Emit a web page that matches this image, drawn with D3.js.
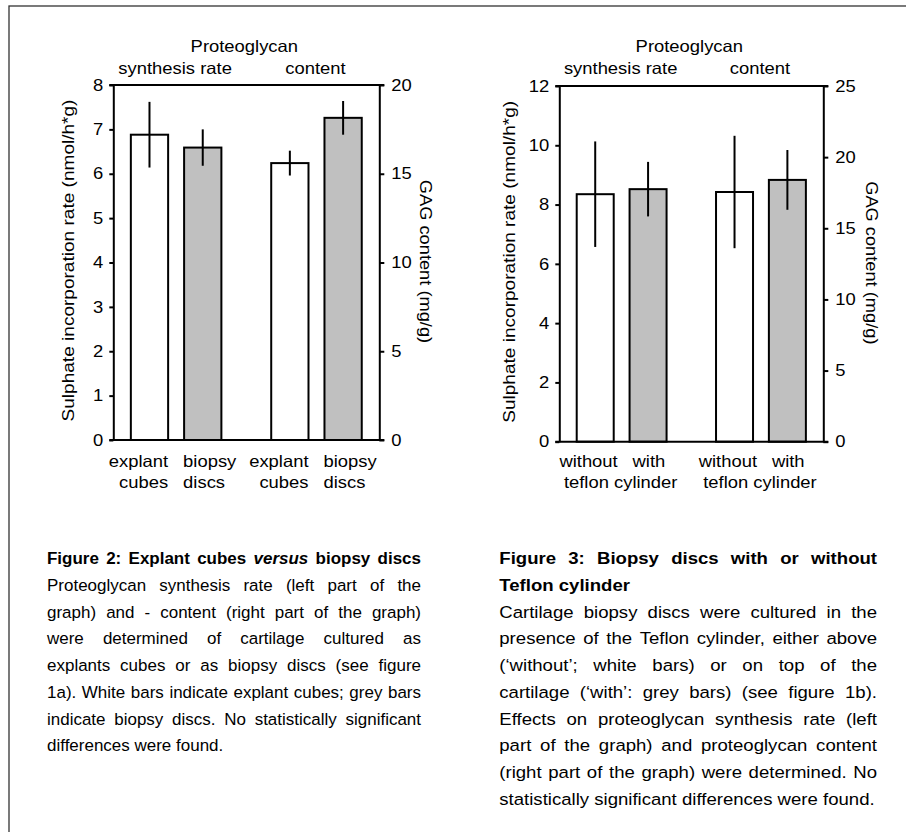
<!DOCTYPE html>
<html>
<head>
<meta charset="utf-8">
<script src="https://cdn.jsdelivr.net/npm/d3@7"></script>
<style>
  html, body { margin: 0; padding: 0; background: #fff; }
  svg { display: block; }
</style>
</head>
<body>
<script>
// ---- Figure 2: explant cubes vs biopsy discs ----
const fig2Groups = ["synthesis rate", "content"];
const fig2Bars = ["explant cubes", "biopsy discs"];
const fig2Rate = [6.88, 6.59];          // nmol/h*g (left axis)
const fig2RateErr = [0.74, 0.41];
const fig2Content = [15.6, 18.15];      // mg/g (right axis)
const fig2ContentErr = [0.7, 0.95];
const fig2LeftTicks = [0, 1, 2, 3, 4, 5, 6, 7, 8];
const fig2RightTicks = [0, 5, 10, 15, 20];

// ---- Figure 3: biopsy discs with or without Teflon cylinder ----
const fig3Groups = ["synthesis rate", "content"];
const fig3Bars = ["without", "with"];
const fig3SharedLabel = "teflon cylinder";
const fig3Rate = [8.35, 8.52];
const fig3RateErr = [1.78, 0.92];
const fig3Content = [17.55, 18.4];
const fig3ContentErr = [3.95, 2.1];
const fig3LeftTicks = [0, 2, 4, 6, 8, 10, 12];
const fig3RightTicks = [0, 5, 10, 15, 20, 25];

const leftAxisTitle = "Sulphate incorporation rate (nmol/h*g)";
const rightAxisTitle = "GAG content (mg/g)";
const headerTitle = "Proteoglycan";

const fig2Caption = [
  { text: "Figure 2: Explant cubes *versus* biopsy discs", bold: true, justify: true },
  { text: "Proteoglycan synthesis rate (left part of the", justify: true },
  { text: "graph) and - content (right part of the graph)", justify: true },
  { text: "were determined of cartilage cultured as", justify: true },
  { text: "explants cubes or as biopsy discs (see figure", justify: true },
  { text: "1a). White bars indicate explant cubes; grey bars", justify: true },
  { text: "indicate biopsy discs. No statistically significant", justify: true },
  { text: "differences were found.", justify: false }
];
const fig3Caption = [
  { text: "Figure 3: Biopsy discs with or without", bold: true, justify: true },
  { text: "Teflon cylinder", bold: true, justify: false },
  { text: "Cartilage biopsy discs were cultured in the", justify: true },
  { text: "presence of the Teflon cylinder, either above", justify: true },
  { text: "(\u2018without\u2019; white bars) or on top of the", justify: true },
  { text: "cartilage (\u2018with\u2019: grey bars) (see figure 1b).", justify: true },
  { text: "Effects on proteoglycan synthesis rate (left", justify: true },
  { text: "part of the graph) and proteoglycan content", justify: true },
  { text: "(right part of the graph) were determined. No", justify: true },
  { text: "statistically significant differences were found.", justify: false }
];

const FONT = "'Liberation Sans', Arial, Helvetica, sans-serif";
const CHART_SIZE = 16.3, CHART_SX = 1.13;
const WHITE = "#ffffff", GREY = "#c0c0c0";

const svg = d3.select("body").append("svg")
  .attr("width", 906).attr("height", 832);

// page frame
svg.append("rect")
  .attr("x", 9).attr("y", 6).attr("width", 920).attr("height", 860)
  .attr("fill", "none").attr("stroke", "#333").attr("stroke-width", 1.3);

// text with a slight horizontal stretch, anchored at (x, y)
function label(parent, x, y, s, o = {}) {
  const g = parent.append("g")
    .attr("transform", `translate(${x},${y}) rotate(${o.rot || 0}) scale(${o.sx || CHART_SX},1)`);
  const t = g.append("text")
    .attr("font-family", FONT)
    .attr("font-size", o.size || CHART_SIZE)
    .attr("text-anchor", o.anchor || "start")
    .attr("fill", "#000")
    .text(s);
  if (o.dy) t.attr("dy", o.dy);
  if (o.bold) t.attr("font-weight", "bold");
  if (o.italic) t.attr("font-style", "italic");
  return g;
}

function drawChart(c) {
  const g = svg.append("g");
  const yL = d3.scaleLinear().domain([0, c.leftTicks[c.leftTicks.length - 1]]).range([c.y1, c.y0]);
  const yR = d3.scaleLinear().domain([0, c.rightTicks[c.rightTicks.length - 1]]).range([c.y1, c.y0]);
  const xG = d3.scaleBand().domain(c.groups).range([c.x0, c.x1]).paddingInner(0.355).paddingOuter(0.125);
  const xB = d3.scaleBand().domain(c.bars).range([0, xG.bandwidth()]).paddingInner(0.3).paddingOuter(0);

  const series = [
    { group: c.groups[0], scale: yL, vals: c.rate, errs: c.rateErr },
    { group: c.groups[1], scale: yR, vals: c.content, errs: c.contentErr }
  ];
  const fills = [WHITE, GREY];

  // bars
  series.forEach(s => {
    c.bars.forEach((b, i) => {
      const bx = xG(s.group) + xB(b);
      g.append("rect")
        .attr("x", bx).attr("y", s.scale(s.vals[i]))
        .attr("width", xB.bandwidth()).attr("height", c.y1 - s.scale(s.vals[i]))
        .attr("fill", fills[i]).attr("stroke", "#000").attr("stroke-width", 2);
    });
  });
  // error bars
  series.forEach(s => {
    c.bars.forEach((b, i) => {
      const cx = xG(s.group) + xB(b) + xB.bandwidth() / 2;
      g.append("line")
        .attr("x1", cx).attr("x2", cx)
        .attr("y1", s.scale(s.vals[i] - s.errs[i])).attr("y2", s.scale(s.vals[i] + s.errs[i]))
        .attr("stroke", "#000").attr("stroke-width", 2);
    });
  });

  // axes
  const axL = g.append("g").attr("transform", `translate(${c.x0},0)`)
    .call(d3.axisLeft(yL).tickValues(c.leftTicks).tickSize(4).tickSizeOuter(0).tickPadding(6).tickFormat(d3.format("d")));
  const axR = g.append("g").attr("transform", `translate(${c.x1},0)`)
    .call(d3.axisRight(yR).tickValues(c.rightTicks).tickSize(5).tickSizeOuter(0).tickPadding(7).tickFormat(d3.format("d")));
  [axL, axR].forEach(ax => {
    ax.select(".domain").attr("stroke", "#000").attr("stroke-width", 2);
    ax.selectAll(".tick line").attr("stroke", "#000").attr("stroke-width", 2);
    ax.selectAll(".tick text").each(function () {
      const t = d3.select(this);
      const x = +t.attr("x");
      t.attr("x", 0).attr("transform", `translate(${x},0) scale(${CHART_SX},1)`)
        .attr("font-family", FONT).attr("font-size", CHART_SIZE).attr("fill", "#000");
    });
  });
  // top and bottom frame lines
  [c.y0, c.y1].forEach(y => {
    g.append("line").attr("x1", c.x0 - 4).attr("x2", c.x1 + 5).attr("y1", y).attr("y2", y)
      .attr("stroke", "#000").attr("stroke-width", 2);
  });

  // headers
  label(g, (c.x0 + c.x1) / 2 - 2, 52, headerTitle, { anchor: "middle" });
  c.groups.forEach(gr => label(g, xG(gr) + xG.bandwidth() / 2 - 1, 73.5, gr, { anchor: "middle" }));

  // axis titles
  label(g, c.x0 - c.leftTitleOff, (c.y0 + c.y1) / 2 - 2, leftAxisTitle, { anchor: "middle", rot: -90, sx: 1.17 });
  label(g, c.x1 + c.rightTitleOff, (c.y0 + c.y1) / 2 - 1, rightAxisTitle, { anchor: "middle", rot: 90, sx: 1.12 });

  // category labels
  c.groups.forEach(gr => c.drawCats(g, xG(gr), xB));
}

drawChart({
  x0: 113.3, x1: 379.3, y0: 85, y1: 440,
  groups: fig2Groups, bars: fig2Bars,
  rate: fig2Rate, rateErr: fig2RateErr, content: fig2Content, contentErr: fig2ContentErr,
  leftTicks: fig2LeftTicks, rightTicks: fig2RightTicks,
  leftTitleOff: 39.5, rightTitleOff: 40.5,
  drawCats: (g, gx, xB) => {
    const [a, b] = fig2Bars.map(s => s.split(" "));
    const ax = gx + xB(fig2Bars[0]) + xB.bandwidth();
    const bx = gx + xB(fig2Bars[1]) - 1;
    label(g, ax, 466.7, a[0], { anchor: "end" });
    label(g, ax, 488.3, a[1], { anchor: "end" });
    label(g, bx, 466.7, b[0]);
    label(g, bx, 488.3, b[1]);
  }
});

drawChart({
  x0: 559.3, x1: 823.3, y0: 86, y1: 441.7,
  groups: fig3Groups, bars: fig3Bars,
  rate: fig3Rate, rateErr: fig3RateErr, content: fig3Content, contentErr: fig3ContentErr,
  leftTicks: fig3LeftTicks, rightTicks: fig3RightTicks,
  leftTitleOff: 44.3, rightTitleOff: 43,
  drawCats: (g, gx, xB) => {
    const ax = gx + xB(fig3Bars[0]) + xB.bandwidth() + 4;
    const bx = gx + xB(fig3Bars[1]) + 3;
    label(g, ax, 466.7, fig3Bars[0], { anchor: "end" });
    label(g, bx, 466.7, fig3Bars[1]);
    label(g, gx + xB.range()[1] / 2 - 1, 488.3, fig3SharedLabel, { anchor: "middle" });
  }
});

// captions: justified paragraphs placed word by word
function paragraph(lines, x0, x1, yStart, lh, size, sx) {
  const g = svg.append("g");
  lines.forEach((ln, li) => {
    const y = yStart + li * lh;
    const words = ln.text.split(" ").map(w => {
      const italic = w.startsWith("*") && w.endsWith("*");
      return { t: italic ? w.slice(1, -1) : w, italic };
    });
    const nodes = words.map(w => {
      const n = label(g, 0, y, w.t, { size, sx, bold: ln.bold, italic: w.italic });
      const wd = n.select("text").node().getComputedTextLength() * sx;
      return { n, wd };
    });
    const total = d3.sum(nodes, d => d.wd);
    const space = size * 0.278 * sx;
    const gap = ln.justify && nodes.length > 1 ? (x1 - x0 - total) / (nodes.length - 1) : space;
    let x = x0;
    nodes.forEach(d => {
      d.n.attr("transform", `translate(${x},${y}) scale(${sx},1)`);
      x += d.wd + gap;
    });
  });
}

paragraph(fig2Caption, 47, 421, 564, 26.75, 16.5, 1.03);
paragraph(fig3Caption, 499.3, 877, 564, 26.75, 17.2, 1.08);
</script>
</body>
</html>
